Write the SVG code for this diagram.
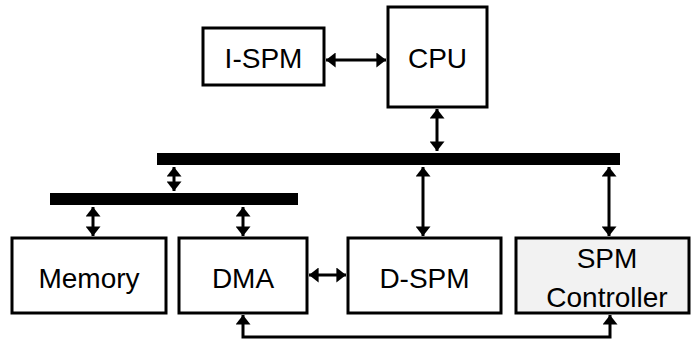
<svg xmlns="http://www.w3.org/2000/svg" width="691" height="341" viewBox="0 0 691 341">
<style>
.box{fill:#fff;stroke:#000;stroke-width:3}
.ctl{fill:#f2f2f2;stroke:#000;stroke-width:3}
.bus{fill:#000}
.lbl{font-family:"Liberation Sans",Arial,sans-serif;font-size:28px;fill:#000;text-anchor:middle}
.c{fill:none;stroke:#000;stroke-width:3;marker-start:url(#ah);marker-end:url(#ah)}
</style>
<defs>
<marker id="ah" markerWidth="4.5" markerHeight="5" refX="3.2" refY="2.5" orient="auto-start-reverse" markerUnits="strokeWidth">
<path d="M0,0 L3.2,2.5 L0,5 Z" fill="#000"/>
</marker>
</defs>
<g id="bus-main"><rect class="bus" x="157" y="153" width="463" height="12"/></g>
<g id="bus-sub"><rect class="bus" x="50" y="193" width="248" height="12"/></g>
<g id="ispm"><rect class="box" x="203" y="28" width="121" height="57"/><text class="lbl" x="263.5" y="68">I-SPM</text></g>
<g id="cpu"><rect class="box" x="388" y="7" width="99" height="100"/><text class="lbl" x="437.5" y="68">CPU</text></g>
<g id="memory"><rect class="box" x="12" y="238" width="154" height="75"/><text class="lbl" x="89" y="288">Memory</text></g>
<g id="dma"><rect class="box" x="179" y="238" width="128" height="75"/><text class="lbl" x="243" y="288">DMA</text></g>
<g id="dspm"><rect class="box" x="348" y="238" width="153" height="75"/><text class="lbl" x="424.5" y="288">D-SPM</text></g>
<g id="spmctrl"><rect class="ctl" x="516" y="238" width="173" height="75"/><text class="lbl" x="607" y="268">SPM</text><text class="lbl" x="607" y="307">Controller</text></g>
<g id="connectors">
<path class="c" d="M326,60 L386,60"/>
<path class="c" d="M437,109 L437,151"/>
<path class="c" d="M174,167 L174,191"/>
<path class="c" d="M93,207 L93,236"/>
<path class="c" d="M243,207 L243,236"/>
<path class="c" d="M423,167 L423,236"/>
<path class="c" d="M609,167 L609,236"/>
<path class="c" d="M309,275 L346,275"/>
<path class="c" d="M243,315 L243,337 L610,337 L610,315"/>
</g>
</svg>
